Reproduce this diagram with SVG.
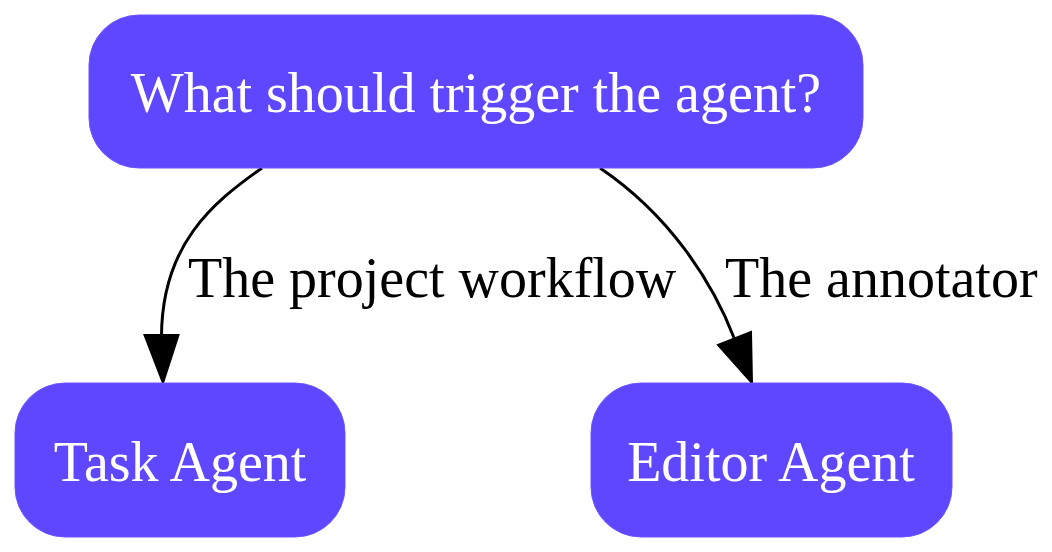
<svg xmlns="http://www.w3.org/2000/svg" width="1052" height="552" viewBox="0 0 1052 552">
<style>
.node rect{fill:#5f46ff;stroke:#6a55ff;stroke-width:1}
.node text{fill:#ffffff;font-family:"Liberation Serif","Times New Roman",serif;font-size:56px;text-anchor:middle}
.edge path{fill:none;stroke:#000;stroke-width:3}
.edge polygon{fill:#000;stroke:#000;stroke-width:2}
.lbl{fill:#000;font-family:"Liberation Serif","Times New Roman",serif;font-size:56px}
</style>
<rect width="1052" height="552" fill="#fff"/>
<g id="connectors">
<g class="edge" id="e1">
<path d="M262,168 C212,203 162,245 161.5,336"/>
<polygon points="144.5,335 178.5,335 163,383"/>
<text class="lbl" x="188" y="297">The project workflow</text>
</g>
<g class="edge" id="e2">
<path d="M600,168 C668,214 712,280 734.5,339"/>
<polygon points="718,345 751,332 752,383"/>
<text class="lbl" x="725" y="297">The annotator</text>
</g>
</g>
<g class="node" id="n-trigger">
<rect x="89" y="15" width="774" height="153" rx="50" ry="50"/>
<text x="476" y="112">What should trigger the agent?</text>
</g>
<g class="node" id="n-task">
<rect x="15" y="383" width="330" height="154" rx="50" ry="50"/>
<text x="180" y="481">Task Agent</text>
</g>
<g class="node" id="n-editor">
<rect x="591" y="383" width="361" height="154" rx="50" ry="50"/>
<text x="771" y="481">Editor Agent</text>
</g>
</svg>
